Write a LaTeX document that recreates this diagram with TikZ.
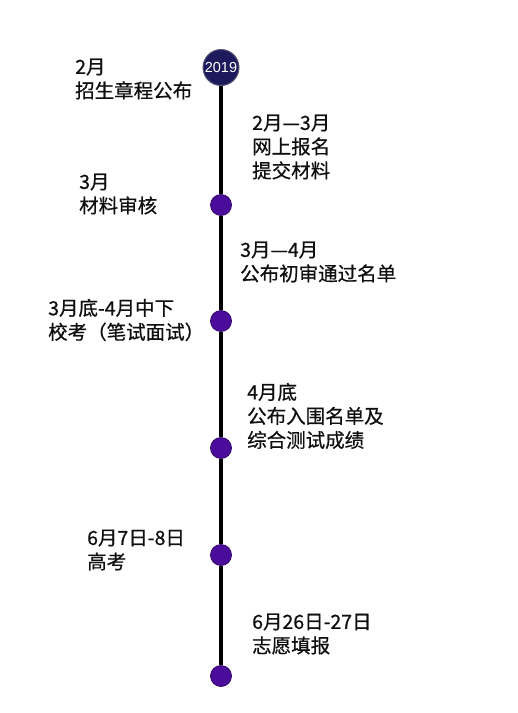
\documentclass[tikz,border=0pt]{standalone}
\usepackage{fontspec}
\setmainfont{Liberation Sans}
\newfontfamily\cjk[FakeBold=0.6]{Noto Sans CJK SC}
\usetikzlibrary{positioning}
\definecolor{yearColor}{RGB}{28,26,92}
\definecolor{dotColor}{RGB}{75,12,155}
\definecolor{textColor}{RGB}{15,15,15}
\tikzstyle{year} = [circle, minimum size=36pt, inner sep=0pt, fill=yearColor, draw=gray!60!yearColor, line width=1pt, text=white, font=\fontsize{14.5}{14.5}\selectfont]
\tikzstyle{event} = [circle, minimum size=21pt, inner sep=0pt, fill=dotColor, draw=dotColor!70!black, line width=0.8pt]
\tikzstyle{note} = [anchor=west, align=left, inner sep=0pt, text=textColor, font=\cjk\fontsize{19.5}{24}\selectfont]
\tikzstyle{spine} = [line width=4pt, black]

\begin{document}
\begin{tikzpicture}[x=1pt, y=-1pt]
    \useasboundingbox[fill=white] (0,0) rectangle (518,713);

    % Timeline
    \node (y2019) [year] at (221,67.5) {2019};
    \node (d1) [event] at (221,205) {};
    \node (d2) [event] at (221,321) {};
    \node (d3) [event] at (221,448) {};
    \node (d4) [event] at (221,555) {};
    \node (d5) [event] at (221,676) {};

    \foreach \a/\b in {y2019/d1, d1/d2, d2/d3, d3/d4, d4/d5}
        \draw [spine] (\a) -- (\b);

    % Left side
    \node (left1) [note] at (75,79) {2月\\招生章程公布};
    \node (left2) [note] at (79,194) {3月\\材料审核};
    \node (left3) [note] at (48,320) {3月底-4月中下\\校考（笔试面试）};
    \node (left4) [note] at (87,550) {6月7日-8日\\高考};

    % Right side
    \node (right1) [note] at (252,147) {2月—3月\\网上报名\\提交材料};
    \node (right2) [note] at (240,262) {3月—4月\\公布初审通过名单};
    \node (right3) [note] at (247,416) {4月底\\公布入围名单及\\综合测试成绩};
    \node (right4) [note] at (252,634) {6月26日-27日\\志愿填报};
\end{tikzpicture}
\end{document}
